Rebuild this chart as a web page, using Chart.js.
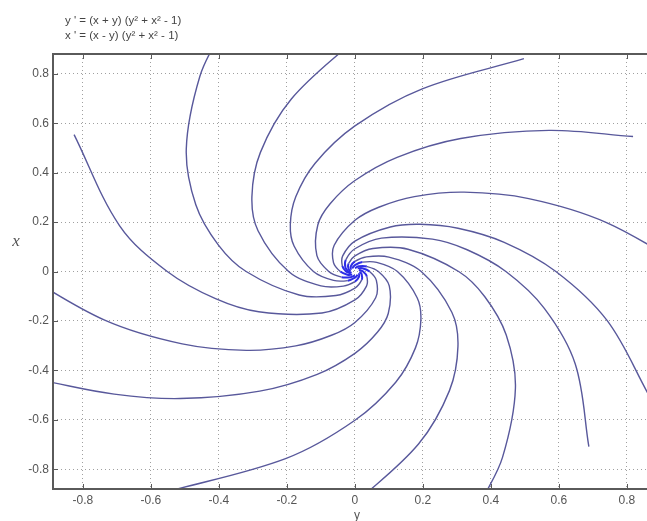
<!DOCTYPE html>
<html>
<head>
<meta charset="utf-8">
<script src="https://cdn.jsdelivr.net/npm/chart.js@4.4.1/dist/chart.umd.min.js"></script>
<style>
html, body { margin: 0; padding: 0; background: #fff; }
#wrap { width: 647px; height: 521px; }
</style>
</head>
<body>
<div id="wrap"><canvas id="phase" width="647" height="521"></canvas></div>
<script>
// horizontal axis is "y", vertical axis is "x" -- each point is [y, x]
const titleLines = ["y ' = (x + y) (y\u00b2 + x\u00b2 - 1)", "x ' = (x - y) (y\u00b2 + x\u00b2 - 1)"];
const hTicks = [-0.8, -0.6, -0.4, -0.2, 0, 0.2, 0.4, 0.6, 0.8];
const hTickLabels = ['-0.8', '-0.6', '-0.4', '-0.2', '0', '0.2', '0.4', '0.6', '0.8'];
const vTicks = [-0.8, -0.6, -0.4, -0.2, 0, 0.2, 0.4, 0.6, 0.8];
const vTickLabels = ['-0.8', '-0.6', '-0.4', '-0.2', '0', '0.2', '0.4', '0.6', '0.8'];

// trajectories, outer end first, ending in the spiral point at the origin
const arm01 = [[-0.826, 0.554], [-0.692, 0.185], [-0.552, 0], [-0.410, -0.110], [-0.283, -0.163], [-0.097, -0.168], [0, -0.115], [0.034, -0.059], [0.035, -0.020], [0.024, 0], [0.012, 0.007]];
const arm02 = [[-0.393, 0.972], [-0.456, 0.790], [-0.496, 0.496], [-0.468, 0.270], [-0.402, 0.108], [-0.320, 0], [-0.164, -0.095], [-0.056, -0.097], [0, -0.067], [0.020, -0.034], [0.020, -0.012], [0.014, 0]];
const arm03 = [[0, 0.939], [-0.187, 0.698], [-0.278, 0.482], [-0.303, 0.303], [-0.285, 0.165], [-0.195, 0], [-0.100, -0.058], [-0.034, -0.059], [0, -0.041], [0.012, -0.021], [0.012, -0.007]];
const arm04 = [[0.497, 0.861], [0.198, 0.739], [0, 0.589], [-0.117, 0.438], [-0.174, 0.302], [-0.190, 0.190], [-0.179, 0.103], [-0.122, 0], [-0.063, -0.036], [-0.021, -0.037], [0, -0.025], [0.008, -0.013]];
const arm05 = [[0.818, 0.546], [0.571, 0.571], [0.311, 0.538], [0.124, 0.462], [0, 0.368], [-0.073, 0.274], [-0.109, 0.189], [-0.112, 0.065], [-0.077, 0], [-0.039, -0.023], [-0.013, -0.023], [0, -0.016]];
const arm06 = [[0.996, 0], [0.740, 0.198], [0.511, 0.295], [0.321, 0.321], [0.175, 0.303], [0.070, 0.260], [0, 0.207], [-0.061, 0.106], [-0.063, 0.036], [-0.043, 0], [-0.022, -0.013], [-0.008, -0.013]];
const arm07 = [[0.864, -0.499], [0.742, -0.199], [0.591, 0], [0.439, 0.118], [0.303, 0.175], [0.191, 0.191], [0.104, 0.180], [0, 0.123], [-0.036, 0.063], [-0.037, 0.022], [-0.026, 0], [-0.013, -0.008]];
const arm08 = [[0.688, -0.709], [0.648, -0.374], [0.557, -0.149], [0.444, 0], [0.330, 0.088], [0.228, 0.131], [0.078, 0.135], [0, 0.092], [-0.027, 0.047], [-0.028, 0.016], [-0.019, 0], [-0.010, -0.006]];
const arm09 = [[0.374, -0.925], [0.434, -0.752], [0.472, -0.472], [0.445, -0.257], [0.382, -0.102], [0.305, 0], [0.156, 0.090], [0.053, 0.093], [0, 0.063], [-0.019, 0.032], [-0.019, 0.011], [-0.013, 0]];
const arm10 = [[0, -0.939], [0.187, -0.698], [0.278, -0.482], [0.303, -0.303], [0.285, -0.165], [0.195, 0], [0.100, 0.058], [0.034, 0.059], [0, 0.041], [-0.012, 0.021], [-0.012, 0.007]];
const arm11 = [[-0.558, -0.893], [-0.202, -0.756], [0, -0.602], [0.120, -0.448], [0.178, -0.309], [0.194, -0.194], [0.183, -0.106], [0.125, 0], [0.064, 0.037], [0.022, 0.038], [0, 0.026], [-0.008, 0.013]];
const arm12 = [[-0.909, -0.444], [-0.708, -0.496], [-0.514, -0.514], [-0.280, -0.484], [-0.111, -0.416], [0, -0.331], [0.066, -0.246], [0.098, -0.170], [0.101, -0.058], [0.069, 0], [0.035, 0.020], [0.012, 0.021], [0, 0.014]];
const arm13 = [[-0.990, 0], [-0.736, -0.197], [-0.508, -0.293], [-0.319, -0.319], [-0.174, -0.301], [-0.069, -0.258], [0, -0.206], [0.061, -0.106], [0.063, -0.036], [0.043, 0], [0.022, 0.013], [0.008, 0.013]];

const arms = [arm01, arm02, arm03, arm04, arm05, arm06, arm07, arm08, arm09, arm10, arm11, arm12, arm13];

const lineColor = 'rgb(88, 88, 155)';
const coreColor = 'rgb(45, 45, 230)';
const labelFont = { family: '"Liberation Sans", Arial, sans-serif', size: 12 };

// axes frame, inward tick marks and the texts
const framePlugin = {
    id: 'frame',
    afterDraw(chart) {
        const { ctx, chartArea: a, scales } = chart;
        ctx.save();
        ctx.strokeStyle = '#5a5a5a';
        ctx.lineWidth = 2;
        ctx.beginPath();
        ctx.moveTo(a.right, a.top);
        ctx.lineTo(a.left, a.top);
        ctx.lineTo(a.left, a.bottom);
        ctx.lineTo(a.right, a.bottom);
        ctx.stroke();

        ctx.lineWidth = 1;
        ctx.beginPath();
        hTicks.forEach(v => {
            const px = Math.round(scales.x.getPixelForValue(v)) + 0.5;
            ctx.moveTo(px, a.bottom);
            ctx.lineTo(px, a.bottom - 5);
            ctx.moveTo(px, a.top);
            ctx.lineTo(px, a.top + 5);
        });
        vTicks.forEach(v => {
            const py = Math.round(scales.y.getPixelForValue(v)) + 0.5;
            ctx.moveTo(a.left, py);
            ctx.lineTo(a.left + 5, py);
        });
        ctx.stroke();

        ctx.fillStyle = '#444';
        ctx.font = '11.5px "Liberation Sans", Arial, sans-serif';
        ctx.textAlign = 'left';
        ctx.textBaseline = 'alphabetic';
        ctx.fillText(titleLines[0], 65, 24);
        ctx.fillText(titleLines[1], 65, 39);

        ctx.fillStyle = '#555';
        ctx.textAlign = 'center';
        ctx.textBaseline = 'middle';
        ctx.font = '12px "Liberation Sans", Arial, sans-serif';
        ctx.fillText('y', 357, 516);
        ctx.font = 'italic 17px "Liberation Serif", serif';
        ctx.fillText('x', 16, 242);
        ctx.restore();
    }
};

// segments close to the origin pile up into the blue spot of the reference
const nearCore = seg => Math.hypot(seg.p0.parsed.x, seg.p0.parsed.y) < 0.06;

const datasets = arms.map(arm => ({
    data: arm.map(([h, v]) => ({ x: h, y: v })),
    showLine: true,
    pointRadius: 0,
    borderColor: lineColor,
    borderWidth: 1.4,
    tension: 0.35,
    segment: {
        borderColor: seg => nearCore(seg) ? coreColor : undefined,
        borderWidth: seg => nearCore(seg) ? 2 : undefined
    }
}));

new Chart(document.getElementById('phase'), {
    type: 'scatter',
    data: { datasets: datasets },
    options: {
        responsive: false,
        animation: false,
        devicePixelRatio: 1,
        layout: { padding: { top: 54, left: 0, right: 0, bottom: 0 } },
        elements: { line: { capBezierPoints: false } },
        plugins: {
            legend: { display: false },
            tooltip: { enabled: false }
        },
        scales: {
            x: {
                type: 'linear',
                min: -0.888,
                max: 0.859,
                afterBuildTicks: scale => { scale.ticks = hTicks.map(v => ({ value: v })); },
                afterFit: scale => { scale.height = 32; },
                ticks: {
                    callback: (value, i) => hTickLabels[i],
                    color: '#555',
                    font: labelFont,
                    padding: 4,
                    maxRotation: 0,
                    autoSkip: false
                },
                grid: { color: 'rgba(120, 120, 120, 0.7)', drawTicks: false, lineWidth: 1 },
                border: { display: false, dash: [1, 3] }
            },
            y: {
                type: 'linear',
                min: -0.88,
                max: 0.88,
                afterBuildTicks: scale => { scale.ticks = vTicks.map(v => ({ value: v })); },
                afterFit: scale => { scale.width = 53; },
                ticks: {
                    callback: (value, i) => vTickLabels[i],
                    color: '#555',
                    font: labelFont,
                    padding: 4,
                    autoSkip: false
                },
                grid: { color: 'rgba(120, 120, 120, 0.7)', drawTicks: false, lineWidth: 1 },
                border: { display: false, dash: [1, 3] }
            }
        }
    },
    plugins: [framePlugin]
});
</script>
</body>
</html>
